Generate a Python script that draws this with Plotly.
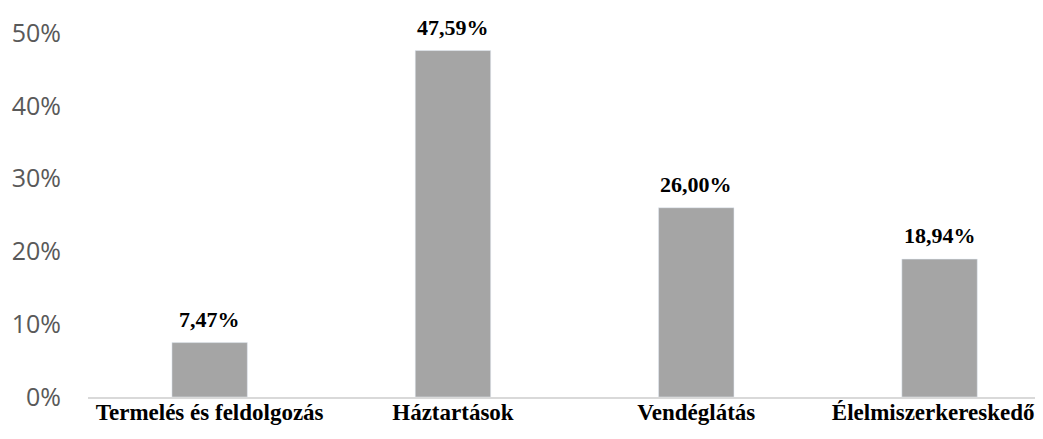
import plotly.graph_objects as go

categories = ["Termelés és feldolgozás", "Háztartások", "Vendéglátás", "Élelmiszerkereskedők"]
shares = [0.0747, 0.4759, 0.2600, 0.1894]
y_ticks = [0, 0.1, 0.2, 0.3, 0.4, 0.5]

fig = go.Figure(go.Bar(
    x=categories, y=shares,
    width=0.31,
    marker_color="#A5A5A5",
    hoverinfo="x+y",
))

# value labels above the bars
for c, v in zip(categories, shares):
    fig.add_annotation(
        x=c, y=v, text=f"{v * 100:.2f}%".replace(".", ","),
        showarrow=False, yanchor="bottom", yshift=9,
        font=dict(family="Liberation Serif", size=22, color="#000000", weight="bold"),
    )

fig.update_layout(
    width=1043, height=439,
    margin=dict(l=80, r=0, t=25, b=50),
    plot_bgcolor="white", paper_bgcolor="white",
    showlegend=False,
)
fig.update_xaxes(
    range=[-0.5, 3.458],
    showline=True, linecolor="#D9D9D9", linewidth=1.5,
    showgrid=False, ticks="",
    tickfont=dict(family="Liberation Serif", size=23, color="#000000", weight="bold"),
    ticklabelstandoff=-6,
    automargin=False,
)
fig.update_yaxes(
    range=[0, 0.5],
    tickvals=y_ticks, tickformat=".0%",
    showgrid=False, zeroline=False, showline=False,
    tickfont=dict(family="Open Sans", size=25, color="#595959"),
    ticklabelstandoff=26,
    automargin=False,
)

fig.write_html("out.html")
